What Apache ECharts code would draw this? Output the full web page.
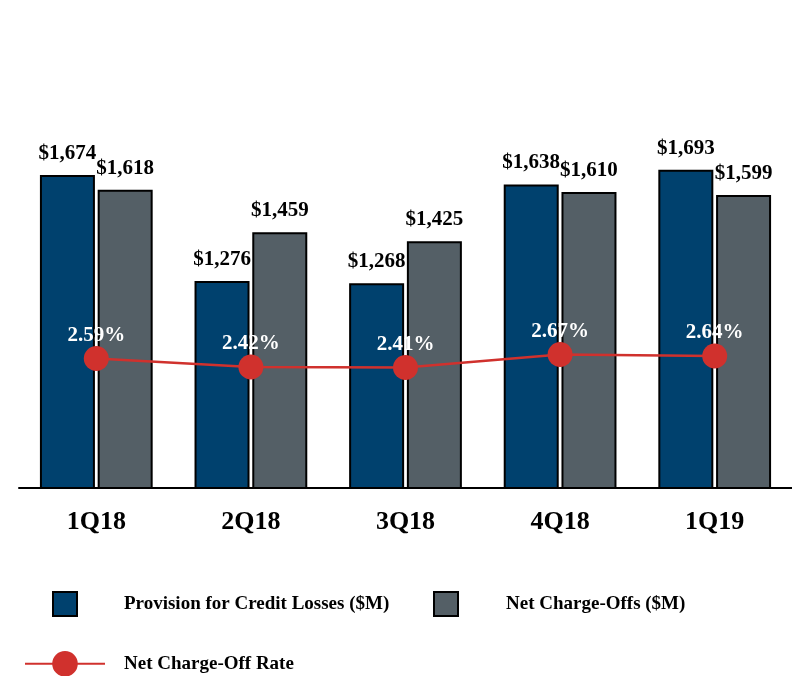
<!DOCTYPE html>
<html>
<head>
<meta charset="utf-8">
<script src="https://cdn.jsdelivr.net/npm/echarts@6/dist/echarts.min.js"></script>
<style>
  html, body { margin: 0; padding: 0; background: #fff; }
  #chart { width: 792px; height: 676px; }
</style>
</head>
<body>
<div id="chart"></div>
<script>
var quarters = ['1Q18', '2Q18', '3Q18', '4Q18', '1Q19'];
var provision = [1674, 1276, 1268, 1638, 1693];
var chargeOffs = [1618, 1459, 1425, 1610, 1599];
var chargeOffRate = [2.59, 2.42, 2.41, 2.67, 2.64];

var serif = '"Liberation Serif", "Times New Roman", serif';
var blue = '#00416e';
var gray = '#545f66';
var red = '#d0312d';

function dollar(v) {
    return '$' + v.toLocaleString('en-US');
}

// legend text style, shared by the three legends
function legendText(padLeft) {
    return {fontFamily: serif, fontWeight: 700, fontSize: 19, color: '#000', padding: [0, 0, 0, padLeft]};
}

var myChart = echarts.init(document.getElementById('chart'));
myChart.setOption({
    animation: false,
    textStyle: {fontFamily: serif},
    grid: {left: 19, right: 0, top: 88, height: 400},
    legend: [
        {
            left: 52, top: 591, padding: 0,
            itemWidth: 24, itemHeight: 24,
            icon: 'rect',
            data: ['Provision for Credit Losses ($M)'],
            textStyle: legendText(42)
        },
        {
            left: 433, top: 591, padding: 0,
            itemWidth: 24, itemHeight: 24,
            icon: 'rect',
            data: ['Net Charge-Offs ($M)'],
            textStyle: legendText(43)
        },
        {
            left: 24, top: 651, padding: 0,
            itemWidth: 80, itemHeight: 32,
            data: ['Net Charge-Off Rate'],
            textStyle: legendText(14)
        }
    ],
    xAxis: {
        type: 'category',
        data: quarters,
        axisLine: {lineStyle: {color: '#000', width: 2}},
        axisTick: {show: false},
        axisLabel: {fontFamily: serif, fontWeight: 700, fontSize: 26, color: '#000', margin: 21}
    },
    yAxis: [
        {type: 'value', min: 500, max: 2000, show: false, splitLine: {show: false}},
        {type: 'value', min: 0, max: 8, show: false, splitLine: {show: false}}
    ],
    series: [
        {
            name: 'Provision for Credit Losses ($M)',
            type: 'bar',
            data: provision,
            barWidth: 55,
            barGap: '5%',
            itemStyle: {color: blue, borderColor: '#000', borderWidth: 2},
            label: {
                show: true, position: 'top', distance: 11,
                formatter: function (p) { return dollar(p.value); },
                fontFamily: serif, fontWeight: 700, fontSize: 21, color: '#000'
            }
        },
        {
            name: 'Net Charge-Offs ($M)',
            type: 'bar',
            data: chargeOffs,
            barWidth: 55,
            itemStyle: {color: gray, borderColor: '#000', borderWidth: 2},
            label: {
                show: true, position: 'top', distance: 11,
                formatter: function (p) { return dollar(p.value); },
                fontFamily: serif, fontWeight: 700, fontSize: 21, color: '#000'
            }
        },
        {
            name: 'Net Charge-Off Rate',
            type: 'line',
            yAxisIndex: 1,
            data: chargeOffRate,
            symbol: 'circle',
            symbolSize: 25,
            lineStyle: {color: red, width: 2.5},
            itemStyle: {color: red},
            z: 5,
            label: {
                show: true, position: 'top', distance: 0,
                formatter: function (p) { return p.value.toFixed(2) + '%'; },
                fontFamily: serif, fontWeight: 700, fontSize: 21, color: '#fff'
            }
        }
    ]
});
</script>
</body>
</html>
